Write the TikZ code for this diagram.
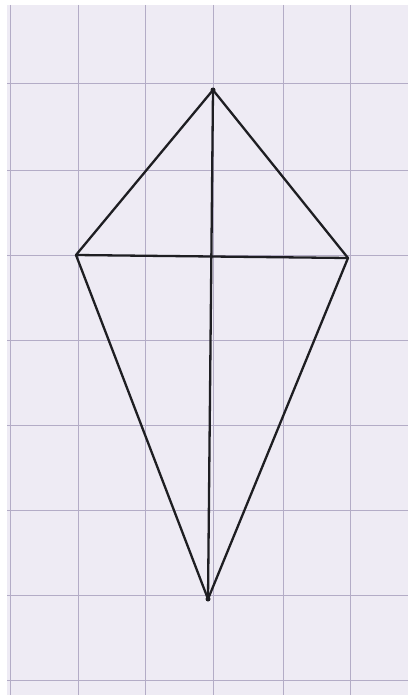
\documentclass[tikz,border=0pt]{standalone}
\definecolor{paper}{HTML}{EEEBF4}
\definecolor{gridc}{HTML}{B3ACC6}
\definecolor{ink}{HTML}{1E1E22}
\begin{document}
\begin{tikzpicture}[x=1pt,y=-1pt,
  gridline/.style={draw=gridc,line width=1pt},
  kiteline/.style={draw=ink,line width=2.3pt,line cap=round,line join=round}]
\useasboundingbox (0,0) rectangle (408,695);
\fill[white] (0,0) rectangle (408,695);
\fill[paper] (7,5) rectangle (408,695);
% grid
\foreach \x in {10,78,145,213,283,350}
  \draw[gridline] (\x,5) -- (\x,695);
\foreach \y in {84,170,255,340,425,510,595,680}
  \draw[gridline] (7,\y) -- (408,\y);
% kite
\coordinate (T) at (213,90);
\coordinate (L) at (76,255);
\coordinate (R) at (348,258);
\coordinate (B) at (208,599);
\draw[kiteline] (T) -- (R) -- (B) -- (L) -- cycle;
\draw[kiteline] (L) -- (R);
\draw[kiteline] (T) -- (B);
\fill[ink] (T) circle (2.5pt) (B) circle (2.5pt);
\end{tikzpicture}
\end{document}
